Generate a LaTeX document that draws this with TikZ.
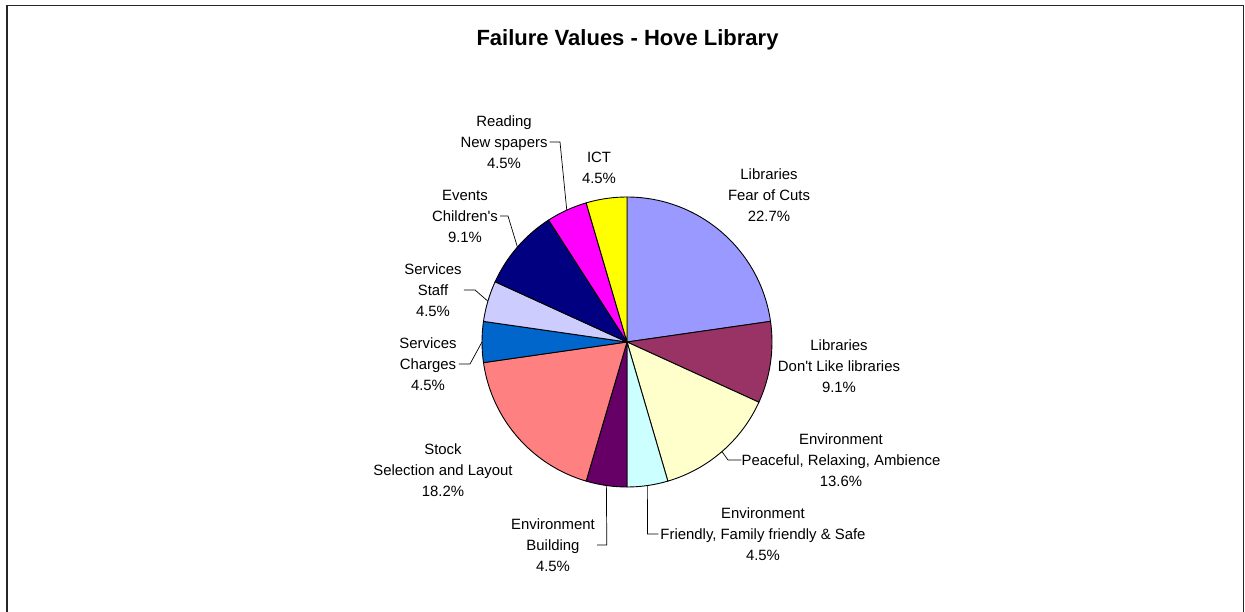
\documentclass[tikz,border=0pt]{standalone}
\usepackage{fontspec}
\setmainfont{Liberation Sans}
\usetikzlibrary{calc}
\begin{document}
\begin{tikzpicture}[x=1pt,y=1pt,
  lbl/.style={inner sep=0pt,align=center,font=\fontsize{14.9}{21}\selectfont},
  lead/.style={draw=black,line width=0.7pt},
  slice/.style={draw=black,line width=0.9pt,line join=round}]
\useasboundingbox (0,0) rectangle (1245,-612);
% frame
\draw[line width=1.2pt,draw=black!85] (7,-613) -- (7,-5.5) -- (1243.5,-5.5) -- (1243.5,-613);
% title
\node[inner sep=0pt,font=\fontsize{22}{24}\selectfont\bfseries] (title) at (627.5,-39.5) {Failure Values - Hove Library};
\coordinate (C) at (627,-342);
\def\R{145}
\definecolor{s1}{HTML}{9999FF}
\definecolor{s2}{HTML}{993366}
\definecolor{s3}{HTML}{FFFFCC}
\definecolor{s4}{HTML}{CCFFFF}
\definecolor{s5}{HTML}{660066}
\definecolor{s6}{HTML}{FF8080}
\definecolor{s7}{HTML}{0066CC}
\definecolor{s8}{HTML}{CCCCFF}
\definecolor{s9}{HTML}{000080}
\definecolor{s10}{HTML}{FF00FF}
\definecolor{s11}{HTML}{FFFF00}
\foreach \a/\b/\c in {0/5/s1,5/7/s2,7/10/s3,10/11/s4,11/12/s5,12/16/s6,16/17/s7,17/18/s8,18/20/s9,20/21/s10,21/22/s11}{
  \pgfmathsetmacro{\sa}{90-\a*360/22}
  \pgfmathsetmacro{\sb}{90-\b*360/22}
  \filldraw[slice,fill=\c] (C) -- ($(C)+(\sa:\R)$) arc[start angle=\sa,end angle=\sb,radius=\R] -- cycle;
}
% edge points for leaders
\coordinate (ePeace) at ($(C)+(-49.09:\R)$);
\coordinate (eFriend) at ($(C)+(-81.82:\R)$);
\coordinate (eBuild) at ($(C)+(-98.18:\R)$);
\coordinate (eCharge) at ($(C)+(180:\R)$);
\coordinate (eStaff) at ($(C)+(163.64:\R)$);
\coordinate (eChild) at ($(C)+(139.09:\R)$);
\coordinate (eRead) at ($(C)+(114.55:\R)$);
% labels
\node[lbl] (fear) at (769,-195) {Libraries\\Fear of Cuts\\22.7\%};
\node[lbl] (dont) at (839,-366) {Libraries\\Don\textquotesingle t Like libraries\\9.1\%};
\node[lbl] (peace) at (841,-460) {Environment\\Peaceful, Relaxing, Ambience\\13.6\%};
\node[lbl] (friend) at (763,-534) {Environment\\Friendly, Family friendly \& Safe\\4.5\%};
\node[lbl] (build) at (553,-545) {Environment\\Building\\4.5\%};
\node[lbl] (stock) at (443,-470) {Stock\\Selection and Layout\\18.2\%};
\node[lbl] (charge) at (428,-364) {Services\\Charges\\4.5\%};
\node[lbl] (staff) at (433,-290) {Services\\Staff\\4.5\%};
\node[lbl] (child) at (465,-216) {Events\\Children\textquotesingle s\\9.1\%};
\node[lbl] (read) at (504,-142) {Reading\\New spapers\\4.5\%};
\node[lbl] (ict) at (599,-167.5) {ICT\\4.5\%};
% leaders
\draw[lead] (ePeace) -- (728,-460) -- (peace.west|-0,-460);
\draw[lead] (eFriend) -- (647.5,-534) -- ([xshift=-2pt]friend.west|-0,-534);
\draw[lead] (eBuild) -- (606.8,-545) -- ([xshift=2pt]build.east|-0,-545);
\draw[lead] (eCharge) -- (470,-364) -- ([xshift=2pt]charge.east|-0,-364);
\draw[lead] (eStaff) -- (475,-290) -- ([xshift=2pt]staff.east|-0,-290);
\draw[lead] (eChild) -- (508,-216) -- ([xshift=2pt]child.east|-0,-216);
\draw[lead] (eRead) -- (560,-142) -- ([xshift=2pt]read.east|-0,-142);
\end{tikzpicture}
\end{document}
